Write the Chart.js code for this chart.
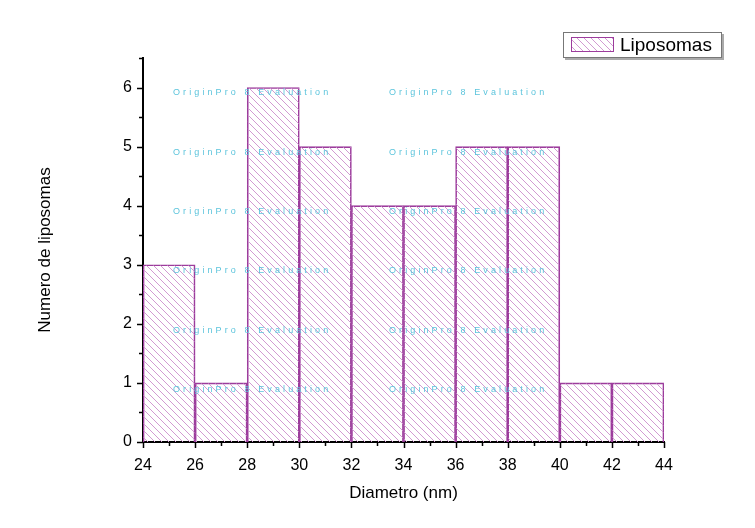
<!DOCTYPE html>
<html>
<head>
<meta charset="utf-8">
<script src="https://cdn.jsdelivr.net/npm/chart.js@4/dist/chart.umd.min.js"></script>
<style>
  body { margin: 0; background: #fff; }
</style>
</head>
<body>
<canvas id="hist" width="755" height="528"></canvas>
<script>
// histogram bins (nm) and counts
const binEdges = [24, 26, 28, 30, 32, 34, 36, 38, 40, 42, 44];
const counts = [3, 1, 6, 5, 4, 4, 5, 5, 1, 1];
const seriesName = 'Liposomas';
const xTicks = [24, 26, 28, 30, 32, 34, 36, 38, 40, 42, 44];
const yTicks = [0, 1, 2, 3, 4, 5, 6];

const purple = '#9c3c9c';

// diagonal hatch fill like Origin's pattern
function hatch() {
    const c = document.createElement('canvas');
    c.width = 7; c.height = 7;
    const g = c.getContext('2d');
    g.strokeStyle = '#d29ad2';
    g.lineWidth = 1;
    g.beginPath();
    g.moveTo(0, 0); g.lineTo(7, 7);
    g.moveTo(-1, 6); g.lineTo(1, 8);
    g.moveTo(6, -1); g.lineTo(8, 1);
    g.stroke();
    return g.createPattern(c, 'repeat');
}
const fill = hatch();

const points = counts.map((v, i) => ({ x: (binEdges[i] + binEdges[i + 1]) / 2, y: v }));

const extras = {
    id: 'extras',
    afterDraw(chart) {
        const ctx = chart.ctx;
        const xs = chart.scales.x, ys = chart.scales.y;
        ctx.save();
        ctx.strokeStyle = '#000';
        ctx.lineWidth = 1.5;
        // ticks, minor ones shorter
        for (let v = xs.min; v <= xs.max; v += 1) {
            const px = Math.round(xs.getPixelForValue(v)) + 0.5;
            const len = (v % 2 === 0) ? 6 : 4;
            ctx.beginPath(); ctx.moveTo(px, xs.top); ctx.lineTo(px, xs.top + len); ctx.stroke();
        }
        for (let v = 0; v <= 6.5; v += 0.5) {
            const py = Math.round(ys.getPixelForValue(v)) + 0.5;
            const len = Number.isInteger(v) ? 6 : 4;
            ctx.beginPath(); ctx.moveTo(ys.right, py); ctx.lineTo(ys.right - len, py); ctx.stroke();
        }

        // watermark
        ctx.fillStyle = '#5cc4dc';
        ctx.font = '9px "Liberation Sans", Arial, sans-serif';
        ctx.letterSpacing = '3.1px';
        ctx.textBaseline = 'middle';
        [93, 153, 212, 271, 331, 390].forEach(y => {
            ctx.fillText('OriginPro 8 Evaluation', 173, y);
            ctx.fillText('OriginPro 8 Evaluation', 389, y);
        });
        ctx.letterSpacing = '0px';

        // legend
        ctx.fillStyle = '#aaa';
        ctx.fillRect(565, 34, 159, 26);
        ctx.fillStyle = '#fff';
        ctx.fillRect(563, 32, 159, 26);
        ctx.strokeStyle = '#777';
        ctx.lineWidth = 1;
        ctx.strokeRect(563.5, 32.5, 158, 25);
        ctx.fillStyle = fill;
        ctx.fillRect(571, 37, 43, 15);
        ctx.strokeStyle = purple;
        ctx.strokeRect(571.5, 37.5, 42, 14);
        ctx.fillStyle = '#000';
        ctx.font = '19px "Liberation Sans", Arial, sans-serif';
        ctx.textBaseline = 'middle';
        ctx.fillText(seriesName, 620, 46);
        ctx.restore();
    }
};

new Chart(document.getElementById('hist'), {
    type: 'bar',
    data: {
        datasets: [{
            label: seriesName,
            data: points,
            backgroundColor: fill,
            borderColor: purple,
            borderWidth: 1,
            barPercentage: 1,
            categoryPercentage: 1
        }]
    },
    options: {
        responsive: false,
        animation: false,
        layout: { padding: { left: 0, right: 91, top: 58, bottom: 0 } },
        plugins: { legend: { display: false }, tooltip: { enabled: false } },
        scales: {
            x: {
                type: 'linear',
                offset: false,
                min: 24,
                max: 44,
                afterFit(s) { s.height = 86; },
                afterBuildTicks(s) { s.ticks = xTicks.map(v => ({ value: v })); },
                grid: { display: false, drawTicks: false },
                border: { color: '#000', width: 2 },
                ticks: { color: '#000', padding: 14, font: { size: 16, family: '"Liberation Sans", Arial' } },
                title: {
                    display: true,
                    text: 'Diametro (nm)',
                    color: '#000',
                    font: { size: 17, family: '"Liberation Sans", Arial' },
                    padding: { top: 0, bottom: 24 }
                }
            },
            y: {
                min: 0,
                max: 6.5,
                afterFit(s) { s.width = 143; },
                afterBuildTicks(s) { s.ticks = yTicks.map(v => ({ value: v })); },
                grid: { display: false, drawTicks: false },
                border: { color: '#000', width: 2 },
                ticks: { color: '#000', padding: 11, font: { size: 16, family: '"Liberation Sans", Arial' } },
                title: {
                    display: true,
                    text: 'Numero de liposomas',
                    color: '#000',
                    font: { size: 17, family: '"Liberation Sans", Arial' },
                    padding: { top: 35, bottom: 0 }
                }
            }
        }
    },
    plugins: [extras]
});
</script>
</body>
</html>
